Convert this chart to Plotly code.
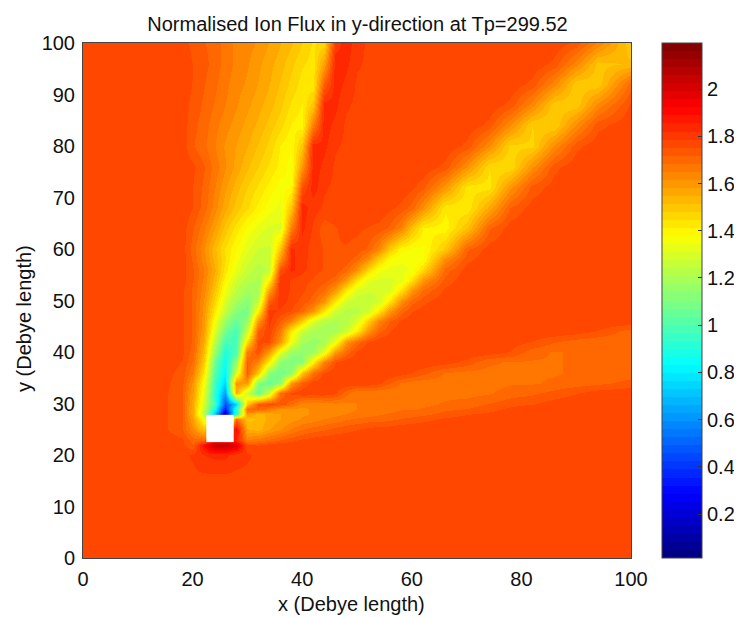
import numpy as np
import plotly.graph_objects as go

TITLE = "Normalised Ion Flux in y-direction at Tp=299.52"
X_LABEL = "x (Debye length)"
Y_LABEL = "y (Debye length)"
X_TICKS = [0, 20, 40, 60, 80, 100]
Y_TICKS = [0, 10, 20, 30, 40, 50, 60, 70, 80, 90, 100]
CBAR_TICKS = [0.2, 0.4, 0.6, 0.8, 1, 1.2, 1.4, 1.6, 1.8, 2]
Z_MIN, Z_MAX = 0.014, 2.195
OBSTACLE_X = [22.5, 27.5]
OBSTACLE_Y = [22.5, 27.8]

x = [0, 8, 14, 18, 20, 22, 24, 26, 28, 30, 32, 34,
     36, 38, 40, 42, 44, 46, 48, 50, 52, 54, 56, 58, 60, 62,
     66, 70, 74, 78, 82, 86, 90, 94, 100]
y = [0, 10, 16, 20, 22, 23, 25, 27, 28, 29, 30, 32, 34, 36, 38, 40, 42, 44, 46, 48, 50, 52, 54, 56, 58, 60,
     64, 68, 72, 76, 80, 84, 88, 92, 96, 100]

# flux x 100, one row per y, one column per x
flux = [
[178,178,178,178,178,178,178,178,178,178,178,178, 178,178,178,178,178,178,178,178,178,178,178,178,178,178, 178,178,178,178,178,178,178,178,178],
[178,178,178,178,178,178,178,178,178,178,178,178, 178,178,178,178,178,178,178,178,178,178,178,178,178,178, 178,178,178,178,178,178,178,178,178],
[178,178,178,178,178,178,178,178,178,178,178,178, 178,178,178,178,178,178,178,178,178,178,178,178,178,178, 178,178,178,178,178,178,178,178,178],
[178,178,178,178,179,182,183,183,180,179,178,178, 178,178,178,178,178,178,178,178,178,178,178,178,178,178, 178,178,178,178,178,178,178,178,178],
[178,178,178,176,172,190,205,205,198,176,175,177, 178,178,178,178,178,178,178,178,178,178,178,178,178,178, 178,178,178,178,178,178,178,178,178],
[178,178,178,176,170,170,190,190,185,165,167,169, 172,174,176,177,178,178,178,178,178,178,178,178,178,178, 178,178,178,178,178,178,178,178,178],
[178,178,177,172,162,150,170,170,190,155,153,158, 161,165,168,170,171,173,174,175,176,177,177,178,178,178, 178,178,178,178,178,178,178,178,178],
[178,178,177,172,158,135,120,80,170,150,152,156, 158,160,162,163,165,166,168,169,170,170,171,172,173,174, 176,177,178,178,178,178,178,178,178],
[178,178,177,172,155,122,70,15,95,160,153,156, 158,160,161,162,163,164,165,166,167,168,169,170,170,171, 173,175,176,178,178,178,178,178,178],
[178,178,177,172,155,125,85,35,90,170,172,166, 160,160,161,162,163,164,164,165,165,166,167,168,168,169, 171,172,174,176,178,178,178,178,178],
[178,178,177,172,156,128,95,45,75,150,172,176, 174,170,163,162,163,164,164,165,165,165,165,166,166,167, 169,170,172,174,175,177,178,178,178],
[178,178,177,172,158,132,92,62,155,127,105,127, 169,176,178,178,178,176,170,165,165,165,165,166,166,166, 167,167,168,170,171,173,175,177,178],
[178,178,177,173,160,136,95,75,160,160,112,105, 112,160,172,177,178,178,178,178,178,176,172,168,167,166, 167,167,167,168,168,169,170,171,173],
[178,178,177,174,165,142,100,82,130,172,150,112, 108,112,150,168,176,178,178,178,178,178,178,177,175,173, 168,167,167,168,168,168,169,169,170],
[178,178,178,175,168,148,105,85,115,172,164,141, 113,110,113,141,164,175,178,178,178,178,178,178,178,178, 177,174,169,168,168,168,169,169,169],
[178,178,178,176,170,152,115,90,100,165,175,159, 133,116,114,116,133,159,170,176,178,178,178,178,178,178, 178,178,177,175,170,168,169,169,169],
[178,178,178,176,171,155,122,98,98,145,176,176, 160,135,118,116,118,135,160,170,176,178,178,178,178,178, 178,178,178,177,175,172,170,169,169],
[178,178,178,176,171,158,130,108,98,125,172,178, 166,142,126,119,118,119,126,142,160,171,175,178,178,178, 178,178,178,178,178,178,177,175,170],
[178,178,178,176,171,159,136,116,105,115,160,180, 172,164,148,130,122,120,122,130,148,164,172,176,178,178, 178,178,178,178,178,178,178,178,178],
[178,178,178,176,171,160,142,125,112,108,140,180, 178,175,170,160,143,127,123,123,127,143,160,170,175,177, 178,178,178,178,178,178,178,178,178],
[178,178,178,176,171,161,146,130,118,112,125,172, 181,177,174,170,161,143,128,125,125,128,143,161,170,174, 178,178,178,178,178,178,178,178,178],
[178,178,178,176,171,163,150,135,124,118,118,158, 182,178,176,173,169,160,143,130,128,128,130,143,160,169, 176,178,178,178,178,178,178,178,178],
[178,178,178,177,172,164,153,139,128,122,120,140, 182,178,176,175,173,170,160,144,132,130,130,132,144,160, 173,178,178,178,178,178,178,178,178],
[178,178,178,177,172,165,155,143,133,126,122,125, 175,183,180,176,175,174,170,161,146,135,133,133,135,146, 170,177,178,178,178,178,178,178,178],
[178,178,178,177,171,163,153,145,136,129,125,126, 160,183,180,177,175,175,174,170,162,148,137,135,135,137, 162,174,178,178,178,178,178,178,178],
[178,178,178,177,170,162,152,144,138,132,127,127, 150,183,180,177,175,175,175,174,171,163,149,139,137,137, 149,171,177,178,178,178,178,178,178],
[178,178,178,177,172,166,158,150,143,137,133,130, 130,165,183,178,173,175,176,176,175,174,171,164,151,141, 139,151,171,177,178,178,178,178,178],
[178,178,178,178,175,170,163,156,150,145,140,136, 133,150,184,180,178,178,178,178,178,178,176,174,170,161, 142,142,156,172,177,178,178,178,178],
[178,178,178,178,175,171,165,159,153,148,144,140, 136,138,175,184,179,178,178,178,178,178,178,178,176,173, 160,143,143,160,173,177,178,178,178],
[178,178,178,178,176,172,167,162,157,152,148,144, 140,136,160,184,181,178,178,178,178,178,178,178,178,178, 174,161,145,145,161,174,178,178,178],
[178,178,178,177,172,169,165,161,158,155,151,147, 141,138,150,184,183,179,178,178,178,178,178,178,178,178, 178,174,162,147,147,162,174,178,178],
[178,178,178,177,173,170,166,163,160,157,154,150, 146,141,139,165,184,181,178,178,178,178,178,178,178,178, 178,178,174,162,148,148,162,174,178],
[178,178,178,177,174,171,168,165,162,159,156,153, 149,144,141,150,184,183,179,178,178,178,178,178,178,178, 178,178,178,174,163,149,149,163,176],
[178,178,178,177,175,172,169,166,163,161,158,155, 151,147,143,142,172,184,181,178,178,178,178,178,178,178, 178,178,178,178,174,163,149,149,170],
[178,178,178,178,175,173,170,167,164,162,159,156, 153,149,145,143,158,184,183,179,178,178,178,178,178,178, 178,178,178,178,178,174,163,150,152],
[178,178,178,177,174,172,170,167,164,163,161,158, 155,152,148,144,146,180,184,180,178,178,178,178,178,178, 178,178,178,178,178,178,174,164,149],
]

assert len(flux) == len(y) and all(len(r) == len(x) for r in flux)
z = np.array(flux) / 100.0


def jet(t):
    r = np.clip(min(4 * t - 1.5, -4 * t + 4.5), 0, 1)
    g = np.clip(min(4 * t - 0.5, -4 * t + 3.5), 0, 1)
    b = np.clip(min(4 * t + 0.5, -4 * t + 2.5), 0, 1)
    return f"rgb({int(r*255)},{int(g*255)},{int(b*255)})"


N = 64
colorscale = []
for i in range(N):
    c = jet((i + 0.5) / N)
    colorscale.append([i / N, c])
    colorscale.append([(i + 1) / N, c])

FONT = "Liberation Sans, Arial, sans-serif"
INK = "#111111"
W, H = 734, 609
L, R, T, B = 75, 111, 35, 59
PW, PH = W - L - R, H - T - B

fig = go.Figure(
    go.Heatmap(
        x=x, y=y, z=z, zmin=Z_MIN, zmax=Z_MAX, zsmooth="best",
        colorscale=colorscale,
        colorbar=dict(
            x=(662 - 83) / PW, xanchor="left", xpad=0, ypad=0,
            thickness=40, thicknessmode="pixels",
            len=1, lenmode="fraction", y=0.5, yanchor="middle",
            tickmode="array", tickvals=CBAR_TICKS, ticktext=[str(v) for v in CBAR_TICKS],
            ticks="inside", ticklen=4, tickcolor="#333333", tickwidth=1,
            outlinecolor="#444444", outlinewidth=1,
            tickfont=dict(family=FONT, size=20, color=INK),
        ),
    )
)

fig.add_shape(type="rect", xref="x", yref="y",
              x0=OBSTACLE_X[0], x1=OBSTACLE_X[1], y0=OBSTACLE_Y[0], y1=OBSTACLE_Y[1],
              fillcolor="white", line_width=0)

axis_common = dict(
    showgrid=False, zeroline=False, showline=True, linecolor="#444444", linewidth=1,
    mirror=True, ticks="outside", ticklen=3, tickcolor="rgba(0,0,0,0)", tickwidth=1,
    tickfont=dict(family=FONT, size=20, color=INK),
)

fig.update_layout(
    width=W, height=H, autosize=False,
    margin=dict(l=L, r=R, t=T, b=B, autoexpand=False),
    paper_bgcolor="white", plot_bgcolor="white",
    title=dict(text=TITLE, x=349.5 / W, xanchor="center", y=1 - 16 / H, yanchor="middle",
               font=dict(family=FONT, size=20, color=INK)),
    xaxis=dict(range=[0, 100], tickmode="array", tickvals=X_TICKS, **axis_common),
    yaxis=dict(range=[0, 100], tickmode="array", tickvals=Y_TICKS, **axis_common),
    annotations=[
        dict(text=X_LABEL, xref="paper", yref="paper", x=(343.5 - L) / PW, y=1 - (596 - T) / PH,
             xanchor="center", yanchor="middle", showarrow=False,
             font=dict(family=FONT, size=20, color=INK)),
        dict(text=Y_LABEL, xref="paper", yref="paper", x=(16 - L) / PW, y=1 - (311 - T) / PH,
             xanchor="center", yanchor="middle", showarrow=False, textangle=-90,
             font=dict(family=FONT, size=20, color=INK)),
    ],
)

fig.write_html("out.html")
